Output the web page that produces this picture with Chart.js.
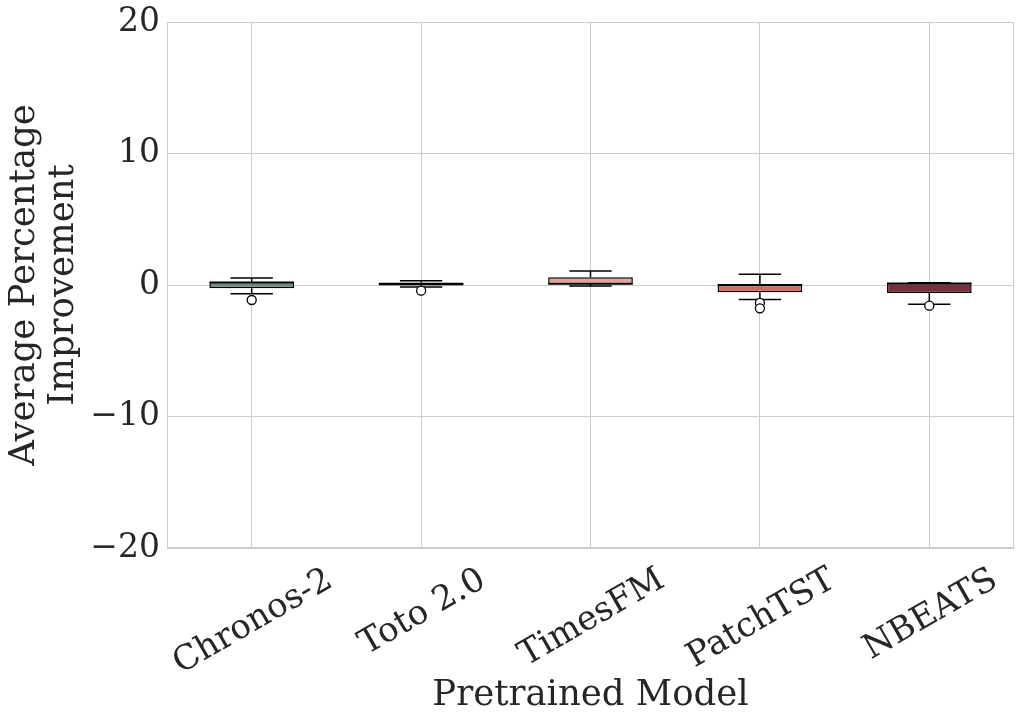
<!DOCTYPE html>
<html>
<head>
<meta charset="utf-8">
<script src="https://cdn.jsdelivr.net/npm/chart.js@4.4.1/dist/chart.umd.min.js"></script>
<style>
  html, body { margin: 0; padding: 0; background: #ffffff; }
  #wrap { width: 1024px; height: 724px; }
</style>
</head>
<body>
<div id="wrap"><canvas id="boxChart"></canvas></div>
<script>
"use strict";

// Values
const models = ["Chronos-2", "Toto 2.0", "TimesFM", "PatchTST", "NBEATS"];
const q1 = [-0.25, -0.04, 0.08, -0.55, -0.6];
const q3 = [0.2, 0.19, 0.58, 0.02, 0.13];
const medians = [0.2, 0.1, 0.08, 0.02, 0.13];
const whiskerLow = [-0.66, -0.15, -0.08, -1.11, -1.46];
const whiskerHigh = [0.53, 0.33, 1.06, 0.81, 0.17];
const outliers = [[-1.14], [-0.43], [], [-1.36, -1.77], [-1.57]];
const boxColors = ["#6c8a86", "#1f2735", "#e0a49d", "#c86e69", "#7a2f40"];
const yTicks = [-20, -10, 0, 10, 20];

const FONT = "DejaVu Serif";
const TEXT = "#262626";
const GRID = "#cccccc";

const outlierPoints = [];
outliers.forEach((list, i) => {
  list.forEach((v) => outlierPoints.push({ x: models[i], y: v }));
});

// whiskers, caps and plot frame
const boxParts = {
  id: "boxParts",
  beforeDatasetsDraw(chart) {
    const { ctx, chartArea, scales } = chart;
    const xs = scales.x, ys = scales.y;
    ctx.save();
    ctx.strokeStyle = GRID;
    ctx.lineWidth = 1;
    ctx.strokeRect(chartArea.left + 0.5, chartArea.top + 0.5,
      chartArea.right - chartArea.left - 1, chartArea.bottom - chartArea.top - 1);

    const capHalf = (xs.getPixelForValue(1) - xs.getPixelForValue(0)) * 0.125;
    ctx.strokeStyle = "#000000";
    ctx.lineWidth = 1.5;
    models.forEach((m, i) => {
      const x = xs.getPixelForValue(i);
      const lo = ys.getPixelForValue(whiskerLow[i]);
      const hi = ys.getPixelForValue(whiskerHigh[i]);
      ctx.beginPath();
      ctx.moveTo(x, ys.getPixelForValue(q1[i]));
      ctx.lineTo(x, lo);
      ctx.moveTo(x, ys.getPixelForValue(q3[i]));
      ctx.lineTo(x, hi);
      ctx.moveTo(x - capHalf, lo);
      ctx.lineTo(x + capHalf, lo);
      ctx.moveTo(x - capHalf, hi);
      ctx.lineTo(x + capHalf, hi);
      ctx.stroke();
    });
    ctx.restore();
  },
  afterDatasetsDraw(chart) {
    const { ctx, scales } = chart;
    const xs = scales.x, ys = scales.y;
    const half = (xs.getPixelForValue(1) - xs.getPixelForValue(0)) * 0.25;
    ctx.save();
    ctx.strokeStyle = "#000000";
    ctx.lineWidth = 1.5;
    medians.forEach((v, i) => {
      const x = xs.getPixelForValue(i);
      const y = ys.getPixelForValue(v);
      ctx.beginPath();
      ctx.moveTo(x - half, y);
      ctx.lineTo(x + half, y);
      ctx.stroke();
    });
    ctx.restore();
  },
  afterDraw(chart) {
    // rotated category labels, centred on their tick like matplotlib
    const { ctx, chartArea, scales } = chart;
    const xs = scales.x;
    const size = 34;
    const ang = Math.PI / 6;
    ctx.save();
    ctx.font = size + "px '" + FONT + "'";
    ctx.fillStyle = TEXT;
    ctx.textAlign = "center";
    ctx.textBaseline = "alphabetic";
    models.forEach((m, i) => {
      const w = ctx.measureText(m).width;
      const h = size * 1.164;
      const bh = w * Math.sin(ang) + h * Math.cos(ang);
      const cx = xs.getPixelForValue(i);
      const cy = chartArea.bottom + 10 + bh / 2;
      ctx.save();
      ctx.translate(cx, cy);
      ctx.rotate(-ang);
      ctx.fillText(m, 0, size * 0.346);
      ctx.restore();
    });
    ctx.restore();
  },
};

const ctx = document.getElementById("boxChart").getContext("2d");
new Chart(ctx, {
  data: {
    labels: models,
    datasets: [
      {
        type: "line",
        label: "Outliers",
        data: outlierPoints,
        showLine: false,
        pointStyle: "circle",
        pointRadius: 4.5,
        pointBorderWidth: 1.3,
        pointBackgroundColor: "#ffffff",
        pointBorderColor: "#000000",
        order: 0,
      },
      {
        type: "bar",
        label: "IQR",
        data: models.map((m, i) => [q1[i], q3[i]]),
        backgroundColor: boxColors,
        borderColor: "#000000",
        borderWidth: 1.5,
        borderSkipped: false,
        barPercentage: 0.5,
        categoryPercentage: 1,
        order: 1,
      },
    ],
  },
  plugins: [boxParts],
  options: {
    responsive: true,
    maintainAspectRatio: false,
    animation: false,
    layout: { padding: { top: 22, right: 10, left: 0, bottom: 0 } },
    plugins: {
      legend: { display: false },
      tooltip: { enabled: false },
    },
    scales: {
      x: {
        grid: { color: GRID, offset: false, drawTicks: false },
        border: { display: false },
        ticks: { display: false },
        title: {
          display: true,
          text: "Pretrained Model",
          color: TEXT,
          font: { family: FONT, size: 35.5, lineHeight: 1.2 },
          padding: { top: 0, bottom: 7 },
        },
        afterFit(scale) {
          scale.height = 176;
        },
      },
      y: {
        min: -20,
        max: 20,
        grid: { color: GRID, drawTicks: false },
        border: { display: false },
        afterBuildTicks(scale) {
          scale.ticks = yTicks.map((v) => ({ value: v }));
        },
        ticks: {
          color: TEXT,
          padding: 7,
          font: { family: FONT, size: 33 },
          callback: (v) => (v < 0 ? "\u2212" + Math.abs(v) : String(v)),
        },
        title: {
          display: true,
          text: ["Average Percentage", "Improvement"],
          color: TEXT,
          font: { family: FONT, size: 35.5, lineHeight: 1.1 },
          padding: { top: 5.5, bottom: 0 },
        },
        afterFit(scale) {
          scale.width = 167;
          scale.paddingTop = 0;
          scale.paddingBottom = 0;
        },
      },
    },
  },
});
</script>
</body>
</html>
